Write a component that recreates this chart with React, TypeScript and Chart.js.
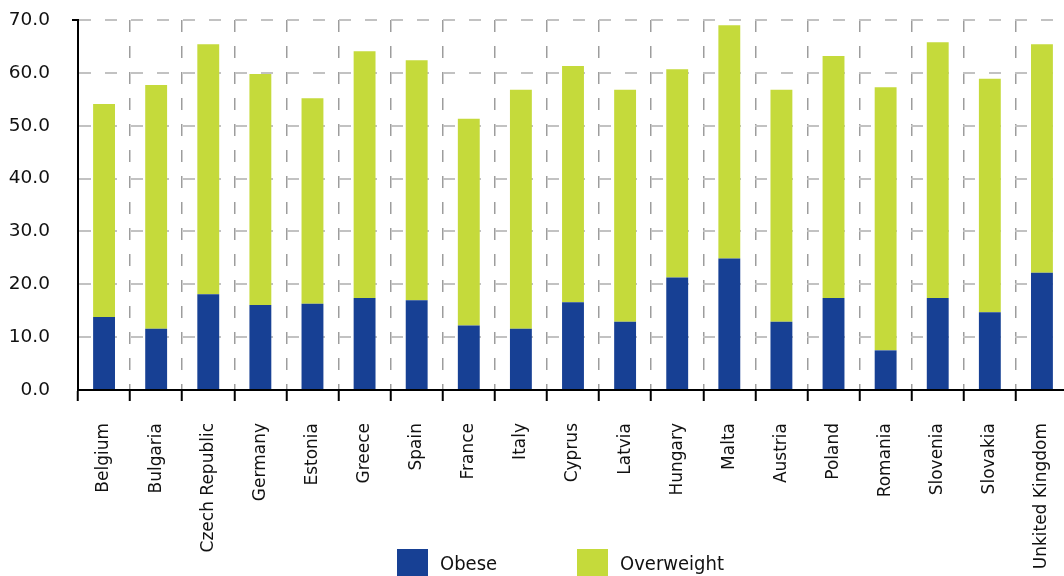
import { useEffect, useRef } from 'react';
import { Chart, registerables } from 'chart.js';

Chart.register(...registerables);

// Share of adults (%) by country
const countries = [
  'Belgium', 'Bulgaria', 'Czech Republic', 'Germany', 'Estonia', 'Greece', 'Spain',
  'France', 'Italy', 'Cyprus', 'Latvia', 'Hungary', 'Malta', 'Austria', 'Poland',
  'Romania', 'Slovenia', 'Slovakia', 'Unkited Kingdom',
];
const obese = [
  13.8, 11.6, 18.1, 16.1, 16.3, 17.4, 17.0, 12.2, 11.6, 16.6,
  12.9, 21.3, 24.9, 12.9, 17.4, 7.5, 17.4, 14.7, 22.2,
];
const overweight = [
  40.3, 46.1, 47.3, 43.7, 38.9, 46.7, 45.4, 39.1, 45.2, 44.7,
  43.9, 39.4, 44.1, 43.9, 45.8, 49.8, 48.4, 44.2, 43.2,
];
const seriesNames = ['Obese', 'Overweight'];
const seriesColors = ['#174094', '#c5da3b'];
const yMin = 0;
const yMax = 70;
const yStep = 10;

const axisFont = 'DejaVu Sans, Verdana, sans-serif';
const legendFont = '"Liberation Sans Narrow", "DejaVu Sans Condensed", sans-serif';

export default function App() {
  const canvasRef = useRef<HTMLCanvasElement | null>(null);

  useEffect(() => {
    const canvas = canvasRef.current;
    if (!canvas) return;
    const chart = new Chart(canvas, {
      type: 'bar',
      data: {
        labels: countries,
        datasets: [
          { label: seriesNames[0], data: obese, backgroundColor: seriesColors[0], stack: 'bmi' },
          { label: seriesNames[1], data: overweight, backgroundColor: seriesColors[1], stack: 'bmi' },
        ],
      },
      options: {
        animation: false,
        responsive: false,
        devicePixelRatio: 1,
        layout: { padding: { top: 20, left: 0, right: 0, bottom: 0 } },
        datasets: { bar: { barPercentage: 0.42, categoryPercentage: 1 } },
        plugins: {
          legend: { display: false },
          tooltip: { enabled: false },
        },
        scales: {
          x: {
            stacked: true,
            offset: true,
            grid: {
              offset: true,
              color: '#9d9d9d',
              lineWidth: 1.5,
              drawTicks: true,
              tickLength: 11,
              tickWidth: 2,
              tickColor: '#000',
            },
            border: { display: true, color: '#000', width: 2, dash: [12, 14] },
            ticks: {
              autoSkip: false,
              maxRotation: 90,
              minRotation: 90,
              padding: 22,
              color: '#111',
              font: { family: axisFont, size: 17 },
            },
            afterFit: (scale: any) => {
              scale.height = 186;
              scale.paddingLeft = 0;
              scale.paddingRight = 0;
            },
          },
          y: {
            stacked: true,
            min: yMin,
            max: yMax,
            ticks: {
              stepSize: yStep,
              padding: 22,
              color: '#111',
              font: { family: axisFont, size: 18.5 },
              callback: (v: any) => Number(v).toFixed(1),
            },
            grid: {
              color: '#c2c2c2',
              lineWidth: 2,
              drawTicks: true,
              tickLength: 6,
              tickWidth: 2,
              tickColor: (ctx: any) =>
                ctx.tick && ctx.tick.value === yMax ? '#000' : 'rgba(0,0,0,0)',
            },
            border: { display: true, color: '#000', width: 2, dash: [12, 14] },
            afterFit: (scale: any) => {
              scale.width = 78;
              scale.paddingTop = 0;
              scale.paddingBottom = 0;
            },
          },
        },
      },
    });
    return () => chart.destroy();
  }, []);

  return (
    <div
      style={{
        position: 'fixed',
        left: 0,
        top: 0,
        width: 1064,
        height: 576,
        overflow: 'hidden',
        background: '#fff',
      }}
    >
      <canvas
        ref={canvasRef}
        width={1068}
        height={576}
        style={{ display: 'block', width: 1068, height: 576 }}
      />
      {seriesNames.map((name, i) => (
        <div
          key={name}
          style={{
            position: 'absolute',
            left: 397 + i * 180,
            top: 549,
            display: 'flex',
            alignItems: 'flex-start',
          }}
        >
          <div style={{ width: 31, height: 27, background: seriesColors[i] }} />
          <span
            style={{
              marginLeft: 12,
              marginTop: 3,
              fontFamily: legendFont,
              fontSize: 20,
              lineHeight: '22px',
              color: '#111',
              whiteSpace: 'nowrap',
            }}
          >
            {name}
          </span>
        </div>
      ))}
    </div>
  );
}
